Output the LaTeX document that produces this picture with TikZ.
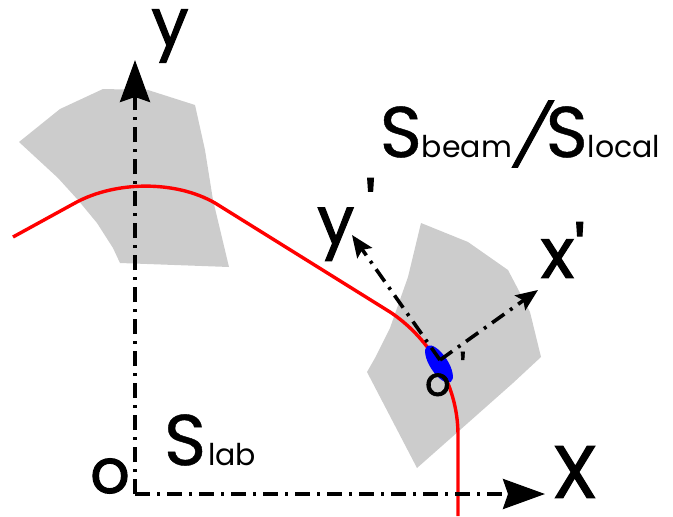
\documentclass[tikz,border=0pt]{standalone}
\usepackage{fontspec}
\setmainfont{Poppins}
\newfontfamily\prmfont{Poppins}
\usetikzlibrary{positioning,arrows.meta,shapes.geometric}
\newcommand{\bigS}{{\fontsize{72}{72}\selectfont\addfontfeature{FakeBold=0.6}S}}
\newcommand{\subtxt}[1]{{\fontsize{30}{30}\selectfont #1}}
\newcommand{\prm}{{\prmfont\addfontfeature{FakeBold=1.6}\char39}}
\tikzset{
	axis/.style={line width=3.6pt,dash pattern=on 15pt off 7pt on 3pt off 7pt},
	bigtip/.style={-{Stealth[length=42pt,width=30pt,inset=5pt]}},
	smalltip/.style={-{Stealth[length=22pt,width=18pt,inset=4pt]}},
	patch/.style={fill=black!20},
	track/.style={red,line width=3.4pt},
	biglabel/.style={inner sep=0pt,font=\fontsize{66}{66}\selectfont\addfontfeature{FakeBold=1.6}},
	midlabel/.style={inner sep=0pt,font=\fontsize{40}{40}\selectfont\addfontfeature{FakeBold=1.6}}
}
\begin{document}
\begin{tikzpicture}[x=1pt,y=-1pt]
	\useasboundingbox (0,0) rectangle (673,517);
	
	% grey patches
	\fill[patch] (19,142)--(60,109)--(103,89)--(148,90)--(195,105)--(205,150)--(213,200)--(229,267)--(120,263)--(113,248)--(97,223)--(78,200)--(58,178)--cycle;
	\fill[patch] (421,223)--(468,242)--(508,270)--(530,312)--(541,357)--(513,383)--(460,430)--(417,468)--(367,372)--(375,358)--(390,328)--(408,277)--cycle;
	
	\coordinate (o) at (135,494);
	\coordinate (yend) at (135,60);
	\coordinate (xend) at (545,494);
	\coordinate (obeam) at (440,360);
	\coordinate (ybeam) at (352,235);
	\coordinate (xbeam) at (538,290);
	
	% beam
	\draw[track] (13,237) -- (75,203) .. controls (115,181) and (175,180) .. (215,203) -- (390,312) .. controls (425,335) and (458,380) .. (458,435) -- (458,516);
	\node[ellipse,fill=blue,inner sep=0pt,minimum width=43pt,minimum height=18pt,rotate=-57] (bunch) at (439,364) {};
	
	% axes
	\draw[axis,bigtip] (o) -- (yend);
	\draw[axis,bigtip] (o) -- (xend);
	\draw[axis,smalltip] (obeam) -- (ybeam);
	\draw[axis,smalltip] (obeam) -- (xbeam);
	
	\node[biglabel] (ylab) at (170,36) {y};
	\node[biglabel,font=\fontsize{74}{74}\selectfont\addfontfeature{FakeBold=1.6}] (xlab) at (575,472) {X};
	\node[biglabel,font=\fontsize{62}{62}\selectfont\addfontfeature{FakeBold=1.6}] (olab) at (110,476) {o};
	\node[biglabel] (yplab) at (346.5,219.5) {y\hspace{11pt}\raisebox{13pt}{\prm}};
	\node[biglabel,font=\fontsize{70}{70}\selectfont\addfontfeature{FakeBold=1.6}] (xplab) at (563,250) {x\hspace{0pt}\prm};
	\node[midlabel] (oplab) at (445.5,374) {o\hspace{9pt}\raisebox{12pt}{\prm}};
	\node[inner sep=0pt] (slab) at (210,440) {\bigS\hspace{2pt}\subtxt{lab}};
	\node[inner sep=0pt] (sbeam) at (520,134) {\bigS\subtxt{beam}{\fontsize{60}{60}\selectfont\addfontfeature{FakeBold=1.6,FakeSlant=0.3}/}\hspace{5pt}\bigS\subtxt{local}};
\end{tikzpicture}
\end{document}
